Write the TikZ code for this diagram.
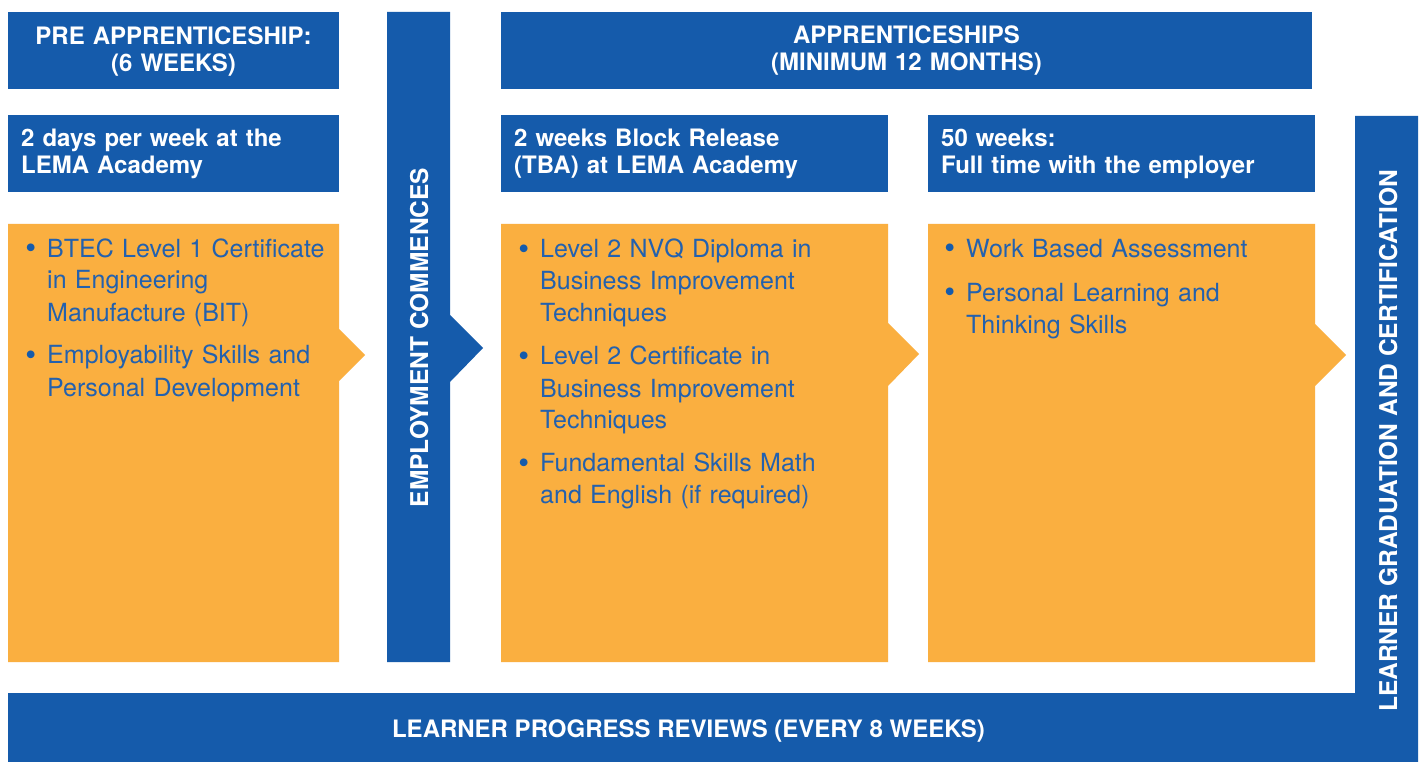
\documentclass[tikz,border=0pt]{standalone}
\usepackage{fontspec}
\setmainfont{TeX Gyre Heros}
\definecolor{lblue}{HTML}{155BAB}
\definecolor{lorange}{HTML}{FAAF40}
\definecolor{ltext}{HTML}{2361AE}
\tikzset{
  bluefill/.style={fill=lblue, draw=none},
  orangefill/.style={fill=lorange, draw=none},
  headtxt/.style={text=white, font=\bfseries\fontsize{24}{27}\selectfont, inner sep=0pt},
  verttxt/.style={text=white, font=\bfseries\fontsize{24.5}{27}\selectfont, inner sep=0pt, rotate=90, anchor=base},
  bodytxt/.style={text=ltext, font=\fontsize{25}{32}\selectfont, inner sep=0pt, align=left, anchor=base west},
}
\newcommand\bul{\leavevmode\llap{\raisebox{-1.2pt}{\textcolor{lblue}{\fontsize{31}{32}\selectfont\textbullet}}\hspace{11pt}}}
\begin{document}
\begin{tikzpicture}[x=1pt,y=-1pt]
\useasboundingbox (0,0) rectangle (1424,762);
\fill[white] (0,0) rectangle (1424,762);
% header boxes
\fill[bluefill] (8,12) rectangle (339,89);
\fill[bluefill] (8,115) rectangle (339,192);
\fill[bluefill] (501,12) rectangle (1312,89);
\fill[bluefill] (501,115) rectangle (888,192);
\fill[bluefill] (928,115) rectangle (1315,192);
% orange boxes with arrows
\fill[orangefill] (8,224) -- (339,224) -- (339,329) -- (365,355) -- (339,381) -- (339,662) -- (8,662) -- cycle;
\fill[orangefill] (501,224) -- (888,224) -- (888,323) -- (919,354) -- (888,386) -- (888,662) -- (501,662) -- cycle;
\fill[orangefill] (928,224) -- (1315,224) -- (1315,324) -- (1346,355) -- (1315,386) -- (1315,662) -- (928,662) -- cycle;
% employment bar
\fill[bluefill] (387,12) -- (450,12) -- (450,315) -- (483,348) -- (450,382) -- (450,662) -- (387,662) -- cycle;
% right + bottom bar
\fill[bluefill] (1355,116) -- (1418,116) -- (1418,762) -- (8,762) -- (8,693) -- (1355,693) -- cycle;

% header texts
\node[headtxt, text width=331pt, align=center, anchor=base] (h1) at (173.5,45) {PRE APPRENTICESHIP:\\(6 WEEKS)};
\node[headtxt, text width=800pt, align=center, anchor=base] (h2) at (906.5,44) {APPRENTICESHIPS\\(MINIMUM 12 MONTHS)};
\node[headtxt, text width=320pt, align=left, anchor=base west] (s1) at (21,147) {2 days per week at the\\LEMA Academy};
\node[headtxt, text width=370pt, align=left, anchor=base west] (s2) at (514,147) {2 weeks Block Release\\(TBA) at LEMA Academy};
\node[headtxt, text width=370pt, align=left, anchor=base west] (s3) at (941,147) {50 weeks:\\Full time with the employer};

% vertical texts
\node[verttxt] (emp) at (428,337.5) {EMPLOYMENT COMMENCES};
\node[verttxt] (grad) at (1397,441) {LEARNER GRADUATION AND CERTIFICATION};
\node[headtxt, anchor=base] (rev) at (688.5,737) {LEARNER PROGRESS REVIEWS (EVERY 8 WEEKS)};

% body texts
\node[bodytxt, text width=300pt] (b1) at (47,257) {\bul BTEC Level 1 Certificate\\in Engineering\\Manufacture (BIT)\\[11pt]\bul Employability Skills and\\Personal Development};
\node[bodytxt, text width=340pt] (b2) at (540,258) {\bul Level 2 NVQ Diploma in\\Business Improvement\\Techniques\\[11pt]\bul Level 2 Certificate in\\Business Improvement\\Techniques\\[11pt]\bul Fundamental Skills Math\\and English (if required)};
\node[bodytxt, text width=340pt] (b3) at (966,257) {\bul Work Based Assessment\\[12pt]\bul Personal Learning and\\Thinking Skills};
\end{tikzpicture}
\end{document}
